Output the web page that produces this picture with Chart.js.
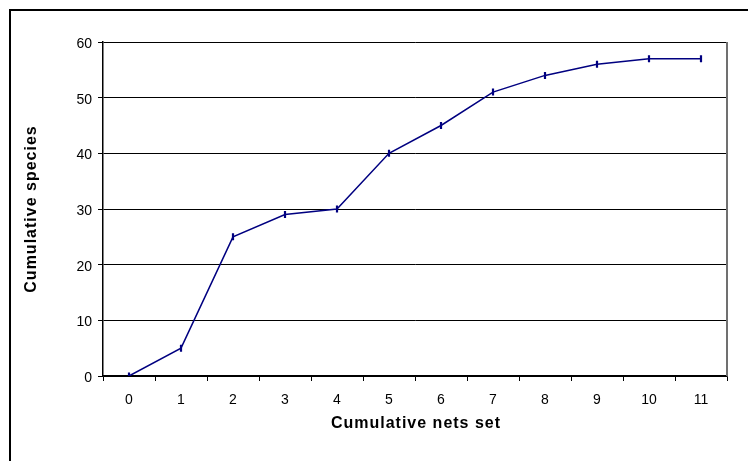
<!DOCTYPE html>
<html>
<head>
<meta charset="utf-8">
<script src="https://cdn.jsdelivr.net/npm/chart.js@4/dist/chart.umd.min.js"></script>
<style>
  html, body { margin: 0; padding: 0; background: #fff; }
  #wrap { width: 748px; height: 461px; position: relative; }
</style>
</head>
<body>
<div id="wrap"><canvas id="c" width="748" height="461"></canvas></div>
<script>
// Species accumulation: cumulative species found as nets are added
const netsSet = ['0', '1', '2', '3', '4', '5', '6', '7', '8', '9', '10', '11'];
const cumulativeSpecies = [0, 5, 25, 29, 30, 40, 45, 51, 54, 56, 57, 57];
const yTicks = [0, 10, 20, 30, 40, 50, 60];
const xTitle = 'Cumulative nets set';
const yTitle = 'Cumulative species';

const FONT = 'Liberation Sans, Arial, Helvetica, sans-serif';
const PLOT_LEFT = 103, PLOT_TOP = 42, PLOT_RIGHT = 727, PLOT_BOTTOM = 376;
const W = 748, H = 461;

// Outer frame (top and left edges), grey right edge of the plot area, axis titles
const framePlugin = {
  id: 'frame',
  afterDraw(chart) {
    const ctx = chart.ctx;
    const a = chart.chartArea;
    ctx.save();
    ctx.fillStyle = '#000';
    ctx.fillRect(9, 9, W - 9, 2);
    ctx.fillRect(9, 9, 2, H - 9);
    ctx.strokeStyle = '#707070';
    ctx.lineWidth = 2;
    ctx.beginPath();
    ctx.moveTo(a.right, a.top);
    ctx.lineTo(a.right, a.bottom);
    ctx.stroke();

    ctx.fillStyle = '#000';
    ctx.font = 'bold 16px ' + FONT;
    ctx.letterSpacing = '1px';
    ctx.textAlign = 'center';
    ctx.textBaseline = 'middle';
    ctx.fillText(xTitle, (a.left + a.right) / 2 + 1, 424);
    ctx.translate(32, (a.top + a.bottom) / 2);
    ctx.rotate(-Math.PI / 2);
    ctx.fillText(yTitle, 0, 0);
    ctx.restore();
  }
};

new Chart(document.getElementById('c'), {
  type: 'line',
  data: {
    labels: netsSet,
    datasets: [{
      data: cumulativeSpecies,
      borderColor: '#000080',
      backgroundColor: '#000080',
      borderWidth: 1.5,
      pointStyle: 'line',
      rotation: 90,
      pointRadius: 3.5,
      pointBorderWidth: 2.2,
      pointBorderColor: '#000080',
      tension: 0,
      fill: false
    }]
  },
  options: {
    responsive: false,
    animation: false,
    events: [],
    layout: { padding: { left: 10, top: PLOT_TOP, right: W - PLOT_RIGHT, bottom: 0 } },
    plugins: { legend: { display: false }, tooltip: { enabled: false } },
    scales: {
      x: {
        type: 'category',
        offset: true,
        afterFit(scale) { scale.height = H - PLOT_BOTTOM; },
        grid: {
          offset: true,
          drawOnChartArea: false,
          drawTicks: true,
          tickLength: 5,
          color: '#000',
          lineWidth: 1
        },
        border: { color: '#000', width: 1.5 },
        ticks: {
          color: '#000',
          font: { family: FONT, size: 14 },
          padding: 11,
          maxRotation: 0,
          autoSkip: false
        },
        title: { display: false }
      },
      y: {
        min: 0,
        max: 60,
        afterFit(scale) { scale.width = PLOT_LEFT - 10; },
        afterBuildTicks(scale) { scale.ticks = yTicks.map(v => ({ value: v })); },
        grid: {
          color: '#000',
          lineWidth: 1,
          tickLength: 5
        },
        border: { color: '#000', width: 1.5 },
        ticks: {
          color: '#000',
          font: { family: FONT, size: 14 },
          padding: 6,
          labelOffset: 2
        },
        title: { display: false }
      }
    }
  },
  plugins: [framePlugin]
});
</script>
</body>
</html>
